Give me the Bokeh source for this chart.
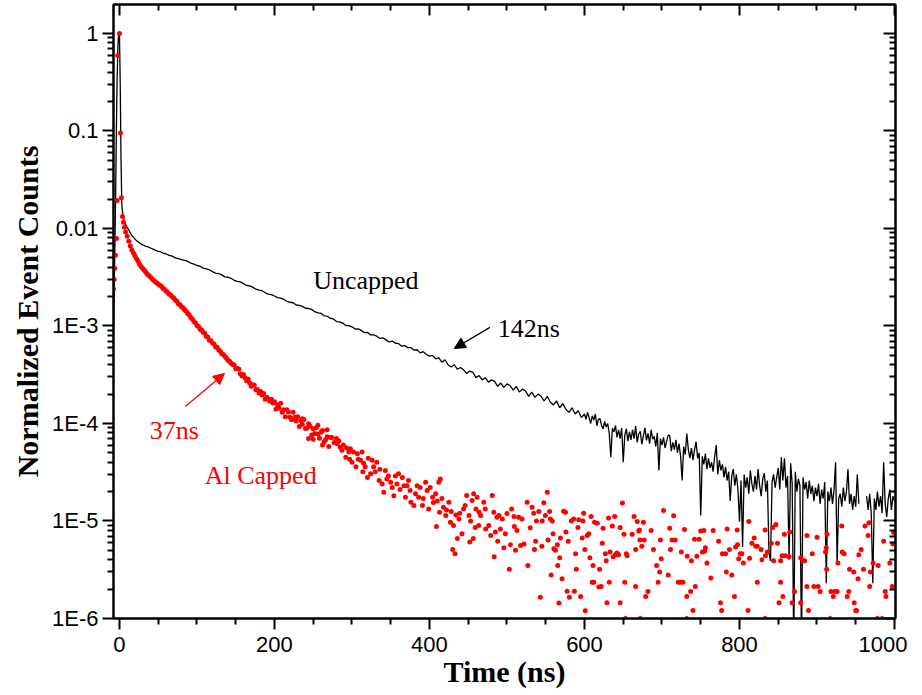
from bokeh.plotting import figure
from bokeh.models import (Range1d, FixedTicker, LinearAxis, LogAxis,
                          CustomJSTickFormatter, Label, Arrow, NormalHead)
from bokeh.embed import file_html
from bokeh.resources import INLINE

# ---------------- data ----------------
nan = float("nan")

# Uncapped sample (black line)
uncapped_t_head = [-8, -7, -6, -5, -4, -3, -2, -1, 0, 1, 2, 3, 4, 5, 6,
                   8, 10, 12, 14, 16, 18, 20, 22, 24, 26, 28, 30, 33, 36,
                   40, 44, 48, 52, 56, 60, 64, 68, 72, 76, 80, 84, 88, 92, 96]
uncapped_y_head = [8e-4, 2e-3, 6e-3, 2e-2, 0.1, 0.35, 0.75, 1.0, 0.95, 0.3, 0.05, 0.018, 0.0145, 0.013, 0.0121,
                   0.0110, 0.0102, 0.0097, 0.0090, 0.0085, 0.0081, 0.0078, 0.0075, 0.0073, 0.0071, 0.0069, 0.0068, 0.0066, 0.0065,
                   0.0063, 0.0061, 0.0059, 0.0058, 0.0056, 0.0055, 0.0053, 0.0052, 0.0050, 0.0049, 0.0048, 0.0047, 0.0046, 0.0044, 0.0043]

uncapped_t_mid = list(range(100, 600, 4))
uncapped_y_mid = [
    4.17e-3, 4.10e-3, 3.92e-3, 3.84e-3, 3.77e-3, 3.60e-3, 3.49e-3, 3.45e-3, 3.34e-3, 3.19e-3,
    3.16e-3, 3.08e-3, 2.94e-3, 2.86e-3, 2.83e-3, 2.72e-3, 2.60e-3, 2.58e-3, 2.50e-3, 2.38e-3,
    2.33e-3, 2.30e-3, 2.19e-3, 2.12e-3, 2.10e-3, 2.03e-3, 1.95e-3, 1.93e-3, 1.87e-3, 1.79e-3,
    1.75e-3, 1.73e-3, 1.64e-3, 1.63e-3, 1.59e-3, 1.52e-3, 1.51e-3, 1.48e-3, 1.40e-3, 1.36e-3,
    1.35e-3, 1.27e-3, 1.26e-3, 1.20e-3, 1.18e-3, 1.11e-3, 1.10e-3, 1.07e-3, 1.01e-3, 1.01e-3,
    9.8e-4, 9.3e-4, 9.35e-4, 9.0e-4, 8.55e-4, 8.6e-4, 8.1e-4, 8.1e-4, 7.85e-4, 7.45e-4,
    7.55e-4, 7.2e-4, 6.85e-4, 7.0e-4, 6.65e-4, 6.6e-4, 6.2e-4, 6.3e-4, 6.0e-4, 6.0e-4,
    5.65e-4, 5.7e-4, 5.3e-4, 5.45e-4, 5.1e-4, 4.9e-4, 5.0e-4, 4.6e-4, 4.7e-4, 4.25e-4,
    4.5e-4, 4.0e-4, 3.8e-4, 4.0e-4, 3.6e-4, 3.75e-4, 3.55e-4, 3.25e-4, 3.45e-4, 3.35e-4,
    2.95e-4, 3.1e-4, 2.8e-4, 2.95e-4, 2.65e-4, 2.8e-4, 2.7e-4, 2.4e-4, 2.6e-4, 2.35e-4,
    2.55e-4, 2.45e-4, 2.2e-4, 2.4e-4, 2.1e-4, 2.25e-4, 2.15e-4, 1.9e-4, 2.1e-4, 1.85e-4,
    2.0e-4, 1.9e-4, 1.7e-4, 1.9e-4, 1.65e-4, 1.55e-4, 1.7e-4, 1.45e-4, 1.6e-4, 1.4e-4,
    1.3e-4, 1.45e-4, 1.25e-4, 1.35e-4, 1.15e-4]

uncapped_t_tail = list(range(600, 1001, 2))
uncapped_y_tail = [
    1.25e-4, 1.1e-4, 1.3e-4, 1.15e-4, 1.0e-4, 1.2e-4, 1.08e-4, 1.25e-4, 9.5e-5, 1.1e-4,
    1.12e-4, 9.6e-5, 8.8e-5, 1.05e-4, 9.2e-5, 1.0e-4, 7.8e-5, 4.5e-5, 9.0e-5, 8.2e-5,
    9.5e-5, 7.2e-5, 8.6e-5, 7.0e-5, 9.0e-5, 4.0e-5, 7.6e-5, 8.8e-5, 6.6e-5, 8.2e-5,
    6.8e-5, 8.6e-5, 7.0e-5, 9.4e-5, 6.4e-5, 7.8e-5, 8.3e-5, 6.1e-5, 7.5e-5, 9.0e-5,
    6.7e-5, 7.9e-5, 6.2e-5, 8.6e-5, 6.9e-5, 7.4e-5, 5.8e-5, 8.0e-5, 3.3e-5, 7.0e-5,
    6.0e-5, 7.2e-5, 5.6e-5, 6.6e-5, 7.6e-5, 7.5e-5, 5.2e-5, 6.4e-5, 5.4e-5, 6.8e-5,
    5.0e-5, 6.2e-5, 4.6e-5, 2.6e-5, 5.8e-5, 4.8e-5, 7.9e-5, 5.4e-5, 4.4e-5, 5.6e-5,
    4.2e-5, 5.4e-5, 6.5e-5, 4.4e-5, 5.0e-5, 1.14e-5, 4.6e-5, 3.8e-5, 4.9e-5, 3.4e-5,
    4.4e-5, 3.5e-5, 4.0e-5, 3.2e-5, 4.6e-5, 6.0e-5, 3.0e-5, 4.2e-5, 3.3e-5, 3.8e-5,
    2.8e-5, 3.6e-5, 2.6e-5, 3.2e-5, 1.6e-5, 2.9e-5, 3.4e-5, 2.3e-5, 3.0e-5, 2.1e-5,
    9.8e-6, 2.6e-5, 5.4e-6, 3.0e-5, 2.2e-5, 2.8e-5, 1.9e-5, 3.3e-5, 2.4e-5, 2.0e-5,
    2.9e-5, 2.1e-5, 3.4e-5, 2.3e-5, 1.8e-5, 2.7e-5, 3.1e-5, 2.0e-5, 2.6e-5, 4.8e-6,
    3.9e-6, 2.5e-5, 3.0e-5, 2.2e-5, 2.8e-5, 3.5e-5, 2.1e-5, 4.5e-5, 2.6e-5, 4.4e-5,
    2.2e-5, 2.9e-5, 4.0e-6, 3.9e-5, 2.4e-5, 5e-7, 3.2e-5, 2.0e-5, 2.7e-5, 2.3e-5,
    5e-7, 2.8e-5, 2.1e-5, 2.5e-5, 1.7e-5, 2.6e-5, 1.9e-5, 2.3e-5, 1.6e-5, 2.2e-5,
    1.8e-5, 2.4e-5, 1.5e-5, 2.1e-5, 1.7e-5, 2.5e-5, 2.3e-6, 2.0e-5, 1.6e-5, 2.2e-5,
    1.5e-5, 2.1e-5, 4.0e-5, 3.6e-6, 1.7e-5, 1.9e-5, 1.4e-5, 2.2e-5, 1.6e-5, 2.0e-5,
    3.4e-5, 1.5e-5, 1.9e-5, 1.3e-5, 1.8e-5, 1.4e-5, 3.0e-5, 1.5e-5, nan, nan,
    nan, nan, 1.8e-5, 1.3e-5, 1.9e-5, 1.2e-5, 2.3e-6, 1.7e-5, 1.3e-5, 2.0e-5,
    1.4e-5, 1.8e-5, 1.2e-5, 4.0e-5, 1.5e-5, 1.1e-5, 1.7e-5, 2.1e-5, 1.3e-5, 1.8e-5,
    1.6e-5]

# Al capped sample (red dots)
alcap_t_edge = [-7.7, -6.8, -6.1, -5.2, -3.9, -3.0, -2.2, 0, 1.3, 2.6, 3.9, 5.2, 6.5]
alcap_y_edge = [2.4e-3, 3.0e-3, 3.9e-3, 5.3e-3, 7.9e-3, 1.94e-2, 0.594, 1.0, 0.095, 2.06e-2, 1.33e-2, 1.16e-2, 1.03e-2]
alcap_t_dense = list(range(8, 273, 2))
alcap_y_dense = [
    9.2e-3, 8.3e-3, 7.4e-3, 6.6e-3, 6.0e-3, 5.6e-3, 5.25e-3, 4.9e-3, 4.6e-3, 4.27e-3,
    4.08e-3, 3.88e-3, 3.72e-3, 3.56e-3, 3.4e-3, 3.3e-3, 3.17e-3, 3.05e-3, 2.95e-3, 2.86e-3,
    2.75e-3, 2.7e-3, 2.62e-3, 2.55e-3, 2.44e-3, 2.38e-3, 2.28e-3, 2.22e-3, 2.13e-3, 2.08e-3,
    1.99e-3, 1.94e-3, 1.85e-3, 1.79e-3, 1.69e-3, 1.65e-3, 1.57e-3, 1.54e-3, 1.47e-3, 1.42e-3,
    1.34e-3, 1.30e-3, 1.22e-3, 1.18e-3, 1.11e-3, 1.08e-3, 1.01e-3, 9.85e-4, 9.25e-4, 9.1e-4,
    8.6e-4, 8.4e-4, 7.85e-4, 7.7e-4, 7.15e-4, 7.05e-4, 6.7e-4, 6.55e-4, 6.1e-4, 6.05e-4,
    5.70e-4, 5.52e-4, 5.22e-4, 5.10e-4, 4.88e-4, 4.70e-4, 4.45e-4, 4.35e-4, 4.15e-4, 4.05e-4,
    3.97e-4, 3.65e-4, 3.67e-4, 3.61e-4, 3.24e-4, 3.07e-4, 3.18e-4, 2.95e-4, 2.74e-4, 2.86e-4,
    2.60e-4, 2.41e-4, 2.50e-4, 2.46e-4, 2.22e-4, 2.23e-4, 2.05e-4, 2.13e-4, 1.96e-4, 2.03e-4,
    1.77e-4, 1.86e-4, 1.78e-4, 1.69e-4, 1.77e-4, 1.62e-4, 1.67e-4, 1.41e-4, 1.56e-4, 1.43e-4,
    1.61e-4, 1.30e-4, 1.38e-4, 1.17e-4, 1.38e-4, 1.31e-4, 1.16e-4, 1.09e-4, 1.30e-4, 1.16e-4,
    1.06e-4, 1.17e-4, 9.3e-5, 1.075e-4, 9.8e-5, 1.10e-4, 8.88e-5, 9.0e-5, 9.94e-5, 9.39e-5,
    7.61e-5, 8.82e-5, 7.87e-5, 9.02e-5, 7.78e-5, 7.06e-5, 8.12e-5, 8.45e-5, 6.44e-5, 6.82e-5,
    7.29e-5, 5.81e-5, 7.2e-5]
alcap_t_sparse = [
    236, 244, 250, 256, 262, 268, 274, 277,
    280, 281, 283, 285, 287, 289, 292, 293,
    296, 297, 298, 300, 302, 305, 307, 308,
    311, 313, 314, 315, 317, 320, 321, 324,
    326, 328, 330, 332, 335, 336, 339, 341,
    343, 345, 347, 350, 352, 354, 356, 358,
    360, 362, 365, 367, 369, 371, 373, 375,
    376, 380, 382, 384, 386, 388, 391, 392,
    395, 397, 399, 401, 404, 405, 408, 409,
    410, 412, 413, 414, 416, 418, 421, 422,
    425, 427, 428, 431, 430, 433, 434, 436,
    438, 439, 442, 444, 446, 448, 451, 452,
    453, 455, 457, 456.5, 459, 460, 461.5, 464,
    463.5, 466, 470, 472, 472.5, 476.5, 479, 481,
    483, 483.5, 485, 487, 488, 489.5, 491.5, 494,
    496, 498, 500, 503, 504.5, 506, 509, 509.5,
    511, 513, 515, 517.5, 519.5, 522, 526, 527,
    530, 532.5, 534.5, 535.5, 537, 538, 541, 543,
    545, 545.5, 547.5, 549.5, 552, 553, 555, 556,
    557, 558.5, 559.5, 560.5, 562.5, 565, 565.5, 567,
    568, 569, 571, 573, 575.5, 576, 577.5, 579,
    580.5, 583, 586, 587, 588.5, 589.5, 591.5, 592.5,
    595, 597, 598, 599, 600.5, 601, 603.5, 605.5,
    607, 608.5, 611, 612, 613, 616.5, 618.5, 619.5,
    624, 631, 636, 639, 646, 649, 651, 664,
    668, 671, 676, 686, 702, 710, 715, 729,
    742, 748, 750, 754, 766, 784, 797, 812,
    819, 833, 843, 847, 858, 865, 887, 900,
    913, 932, 962, 967, 966, 999, 623, 627,
    628, 633, 637, 640, 642, 644, 654, 655,
    661.5, 666, 670, 671.5, 674, 677, 689, 693,
    697, 698, 699, 708, 711, 713, 717, 725,
    732.5, 738, 745, 752, 755, 756, 758, 773,
    778, 782, 783, 787, 790, 795, 797.5, 799,
    801, 803, 805, 813, 816, 821, 823, 828,
    829, 833.5, 836, 841, 844, 849, 853, 855,
    859, 864, 879, 882, 884, 894, 911, 912,
    912.5, 927, 932.5, 935, 942, 947.5, 954, 953,
    957, 960, 969, 972.5, 979, 986, 994, 998,
    610, 621.5, 629, 632, 646, 652, 666, 679,
    682, 695, 721, 724, 727, 732, 737, 740,
    743, 763, 775.5, 777, 793.5, 811, 823, 851,
    853, 856, 868, 871, 879, 887, 889, 896,
    901.5, 904, 918, 921, 923, 926, 939, 941,
    948, 950, 951, 968, 988, 989, 997, 653,
    672, 732, 833, 917, 978, 984]
alcap_y_sparse = [
    1.12e-4, 7.0e-5, 6.9e-5, 9.6e-5, 6.0e-5, 8.6e-5, 7.2e-5, 6.4e-5,
    7.0e-5, 6.2e-5, 6.6e-5, 5.7e-5, 5.3e-5, 6.0e-5, 4.5e-5, 5.6e-5,
    5.1e-5, 4.3e-5, 5.5e-5, 4.0e-5, 5.1e-5, 3.6e-5, 4.9e-5, 4.3e-5,
    4.2e-5, 5.1e-5, 3.2e-5, 3.9e-5, 3.6e-5, 2.8e-5, 4.4e-5, 3.05e-5,
    4.2e-5, 3.6e-5, 3.2e-5, 4.0e-5, 2.6e-5, 3.4e-5, 2.4e-5, 1.97e-5,
    3.3e-5, 2.7e-5, 2.9e-5, 2.5e-5, 2.2e-5, 1.82e-5, 2.9e-5, 2.4e-5,
    3.05e-5, 2.1e-5, 2.8e-5, 2.3e-5, 1.75e-5, 2.3e-5, 2.6e-5, 2.05e-5,
    1.56e-5, 1.44e-5, 1.9e-5, 2.3e-5, 1.75e-5, 2.2e-5, 1.44e-5, 1.7e-5,
    2.5e-5, 2.05e-5, 1.33e-5, 2.2e-5, 1.75e-5, 1.55e-5, 1.9e-5, 8.8e-6,
    1.6e-5, 2.5e-5, 1.23e-5, 2.7e-5, 1.7e-5, 1.38e-5, 1.14e-5, 1.3e-5,
    1.56e-5, 9.7e-6, 1.25e-5, 9.0e-6, 5.1e-6, 4.6e-6, 1.15e-5, 6.6e-6,
    1.05e-5, 1.2e-5, 7.4e-6, 1.33e-5, 1.44e-5, 1.83e-5, 1.14e-5, 6.1e-6,
    1.0e-5, 1.62e-5, 1.9e-5, 6.6e-6, 8.6e-6, 1.33e-5, 1.75e-5, 1.23e-5,
    9.0e-6, 1.14e-5, 1.56e-5, 1.33e-5, 8.3e-6, 9.0e-6, 7.1e-6, 1.83e-5,
    1.23e-5, 4.3e-6, 7.7e-6, 1.09e-5, 6.2e-6, 1.14e-5, 8.3e-6, 1.05e-5,
    5.3e-6, 7.4e-6, 1.19e-5, 3.2e-6, 5.7e-6, 1.33e-5, 1.11e-5, 8.8e-6,
    5.0e-6, 8.0e-6, 1.09e-5, 5.6e-6, 1.05e-5, 5.8e-6, 1.56e-5, 3.5e-6,
    8.5e-6, 1.38e-5, 1.2e-5, 5.1e-6, 6.2e-6, 1.0e-5, 1.25e-5, 1.65e-6,
    5.5e-6, 1.0e-5, 1.54e-5, 1.14e-5, 1.97e-5, 6.4e-6, 1.25e-5, 1.05e-5,
    2.8e-6, 1.0e-5, 7.4e-6, 5.2e-6, 5.0e-6, 5.7e-6, 3.5e-6, 1.44e-6,
    4.2e-6, 6.7e-6, 2.55e-6, 1.26e-5, 1.23e-5, 7.7e-6, 1.9e-6, 6.2e-6,
    1.65e-6, 1.0e-5, 1.05e-5, 1.9e-6, 4.6e-6, 3.2e-6, 8.6e-6, 1.03e-5,
    1.68e-6, 6.7e-6, 1.0e-5, 1.2e-5, 5.1e-6, 1.2e-6, 7.1e-6, 7.4e-6,
    4.2e-6, 1.11e-5, 3.5e-6, 2.35e-6, 9.7e-6, 9.5e-6, 2.1e-6, 3.2e-6,
    8.4e-6, 1.07e-5, 8.9e-6, 1.11e-5, 8.6e-6, 1.53e-5, 7.3e-6, 1.11e-5,
    9.9e-6, 8.1e-6, 9.7e-6, 8.0e-6, 1.28e-5, 8.4e-6, 1.13e-5, 8.2e-6,
    6.5e-6, 6.5e-6, 7.9e-6, 8.0e-6, 8.0e-6, 8.3e-6, 8.1e-6, 9.9e-6,
    6.7e-6, 8.1e-6, 8.6e-6, 9.2e-6, 7.3e-6, 7.7e-6, 7.1e-6, 6.8e-6,
    7.3e-6, 8.9e-6, 8.9e-6, 9.6e-6, 7.1e-6, 7.6e-6, 5.9e-6, 4.6e-6,
    3.9e-6, 4.8e-6, 4.3e-6, 4.5e-6, 4.7e-6, 4.5e-6, 4.6e-6, 4.4e-6,
    7.3e-6, 5.1e-6, 7.9e-6, 6.4e-6, 5.5e-6, 6.4e-6, 5.1e-6, 3.5e-6,
    3.0e-6, 6.4e-6, 4.1e-6, 2.8e-6, 5.1e-6, 6.4e-6, 6.4e-6, 4.8e-6,
    4.35e-6, 3.9e-6, 4.35e-6, 4.8e-6, 4.9e-6, 5.3e-6, 3.7e-6, 6.2e-6,
    4.6e-6, 4.6e-6, 3.0e-6, 5.1e-6, 2.8e-6, 5.4e-6, 5.7e-6, 4.1e-6,
    4.6e-6, 4.6e-6, 3.7e-6, 4.15e-6, 5.9e-6, 5.5e-6, 5.5e-6, 5.1e-6,
    4.0e-6, 4.4e-6, 4.8e-6, 5.9e-6, 3.9e-6, 5.9e-6, 3.9e-6, 4.4e-6,
    4.4e-6, 4.3e-6, 4.2e-6, 3.9e-6, 3.9e-6, 4.6e-6, 4.8e-6, 5.3e-6,
    3.2e-6, 3.7e-6, 4.8e-6, 4.6e-6, 3.2e-6, 3.0e-6, 4.5e-6, 2.55e-6,
    5.1e-6, 3.2e-6, 3.0e-6, 3.7e-6, 3.5e-6, 6.2e-6, 3.7e-6, 5.8e-6,
    2.36e-6, 2.13e-6, 1.45e-6, 2.36e-6, 1.45e-6, 2.36e-6, 2.13e-6, 1.68e-6,
    1.89e-6, 2.36e-6, 2.36e-6, 2.36e-6, 2.36e-6, 1.68e-6, 1.89e-6, 1.21e-6,
    2.13e-6, 2.6e-6, 1.45e-6, 1.21e-6, 1.68e-6, 1.21e-6, 2.36e-6, 1.45e-6,
    2.36e-6, 1.68e-6, 1.45e-6, 1.89e-6, 1.45e-6, 2.13e-6, 1.21e-6, 2.13e-6,
    2.13e-6, 1.89e-6, 1.89e-6, 1.68e-6, 1.89e-6, 1.89e-6, 1.68e-6, 1.89e-6,
    1.45e-6, 1.21e-6, 1.21e-6, 2.13e-6, 1.89e-6, 1.68e-6, 2.13e-6, 1.0e-6,
    1.0e-6, 1.0e-6, 1.0e-6, 1.0e-6, 1.0e-6, 1.0e-6]

# axis ticks / labels
x_major = [0, 200, 400, 600, 800, 1000]
x_minor = [v for v in range(50, 1000, 50) if v % 200 != 0]
y_major = [1e-6, 1e-5, 1e-4, 1e-3, 1e-2, 1e-1, 1.0]
y_labels = ["1E-6", "1E-5", "1E-4", "1E-3", "0.01", "0.1", "1"]
y_minor = [m * 10.0 ** k for k in range(-6, 1) for m in range(2, 10)]

assert len(uncapped_t_head) == len(uncapped_y_head)
assert len(uncapped_t_mid) == len(uncapped_y_mid)
assert len(uncapped_t_tail) == len(uncapped_y_tail)
assert len(alcap_t_dense) == len(alcap_y_dense)
assert len(alcap_t_sparse) == len(alcap_y_sparse)

uncapped_t = uncapped_t_head + uncapped_t_mid + uncapped_t_tail
uncapped_y = uncapped_y_head + uncapped_y_mid + uncapped_y_tail
alcap_t = alcap_t_edge + alcap_t_dense + alcap_t_sparse
alcap_y = alcap_y_edge + alcap_y_dense + alcap_y_sparse

# ---------------- figure ----------------
p = figure(frame_width=782, frame_height=614,
           x_range=Range1d(-7.7, 1001.3), y_range=Range1d(1e-6, 1.98),
           y_axis_type="log", output_backend="svg", toolbar_location=None,
           min_border_left=113, min_border_right=12, min_border_top=4,
           min_border_bottom=60, background_fill_color="white",
           border_fill_color="white", outline_line_color="black",
           outline_line_width=2)
p.xgrid.visible = False
p.ygrid.visible = False

RED = "#ff0000"
p.line(uncapped_t, uncapped_y, line_color="black", line_width=1.3)
p.scatter(alcap_t, alcap_y, marker="circle", size=5, fill_color=RED,
          line_color=RED, line_width=0)

yfmt = CustomJSTickFormatter(args=dict(vals=y_major, labs=y_labels), code="""
for (let i = 0; i < vals.length; i++) {
  if (Math.abs(Math.log10(tick) - Math.log10(vals[i])) < 1e-6) return labs[i];
}
return '';
""")
blank = CustomJSTickFormatter(code="return '';")

def style_common(ax):
    ax.axis_line_width = 2
    ax.axis_line_color = "black"
    ax.major_tick_line_width = 2
    ax.minor_tick_line_width = 2
    ax.major_tick_line_color = "black"
    ax.minor_tick_line_color = "black"

xa = p.below[0]
xa.ticker = FixedTicker(ticks=x_major, minor_ticks=x_minor)
style_common(xa)
xa.major_tick_in = 0
xa.major_tick_out = 11
xa.minor_tick_in = 0
xa.minor_tick_out = 6
xa.major_label_text_font = "Liberation Sans"
xa.major_label_text_font_size = "22px"
xa.major_label_text_color = "black"
xa.major_label_standoff = 7
xa.axis_label = "Time (ns)"
xa.axis_label_text_font = "Liberation Serif"
xa.axis_label_text_font_style = "bold"
xa.axis_label_text_font_size = "30px"
xa.axis_label_text_color = "black"
xa.axis_label_standoff = 0

ya = p.left[0]
ya.ticker = FixedTicker(ticks=y_major, minor_ticks=y_minor)
ya.formatter = yfmt
style_common(ya)
ya.major_tick_in = 0
ya.major_tick_out = 11
ya.minor_tick_in = 0
ya.minor_tick_out = 6
ya.major_label_text_font = "Liberation Sans"
ya.major_label_text_font_size = "22px"
ya.major_label_text_color = "black"
ya.major_label_standoff = 4
ya.axis_label = "Normalized Event Counts"
ya.axis_label_text_font = "Liberation Serif"
ya.axis_label_text_font_style = "bold"
ya.axis_label_text_font_size = "30px"
ya.axis_label_text_color = "black"
ya.axis_label_standoff = 5

top = LinearAxis(ticker=FixedTicker(ticks=x_major, minor_ticks=x_minor),
                 formatter=blank, major_label_text_font_size="0px",
                 major_label_standoff=0, major_tick_in=11, major_tick_out=0,
                 minor_tick_in=6, minor_tick_out=0)
style_common(top)
p.add_layout(top, "above")

right = LogAxis(ticker=FixedTicker(ticks=y_major, minor_ticks=y_minor),
                formatter=blank, major_label_text_font_size="0px",
                major_label_standoff=0, major_tick_in=12, major_tick_out=0,
                minor_tick_in=6, minor_tick_out=0)
style_common(right)
p.add_layout(right, "right")

# ---------------- annotations ----------------
SERIF = "Liberation Serif"
p.add_layout(Label(x=250, y=2.93e-3, text="Uncapped", text_font=SERIF,
                   text_font_size="26px", text_color="black",
                   text_baseline="alphabetic"))
p.add_layout(Label(x=488, y=9.4e-4, text="142ns", text_font=SERIF,
                   text_font_size="26px", text_color="black",
                   text_baseline="alphabetic"))
p.add_layout(Label(x=39, y=8.5e-5, text="37ns", text_font=SERIF,
                   text_font_size="26px", text_color=RED,
                   text_baseline="alphabetic"))
p.add_layout(Label(x=110, y=2.93e-5, text="Al Capped", text_font=SERIF,
                   text_font_size="26px", text_color=RED,
                   text_baseline="alphabetic"))

p.add_layout(Arrow(end=NormalHead(size=11, fill_color="black", line_color="black", line_width=1),
                   x_start=478, y_start=9.66e-4, x_end=432, y_end=5.88e-4,
                   line_color="black", line_width=1.3))
p.add_layout(Arrow(end=NormalHead(size=11, fill_color=RED, line_color=RED, line_width=1),
                   x_start=85, y_start=1.49e-4, x_end=135.5, y_end=3.26e-4,
                   line_color=RED, line_width=1.3))

open("out.html", "w").write(file_html(p, INLINE))
